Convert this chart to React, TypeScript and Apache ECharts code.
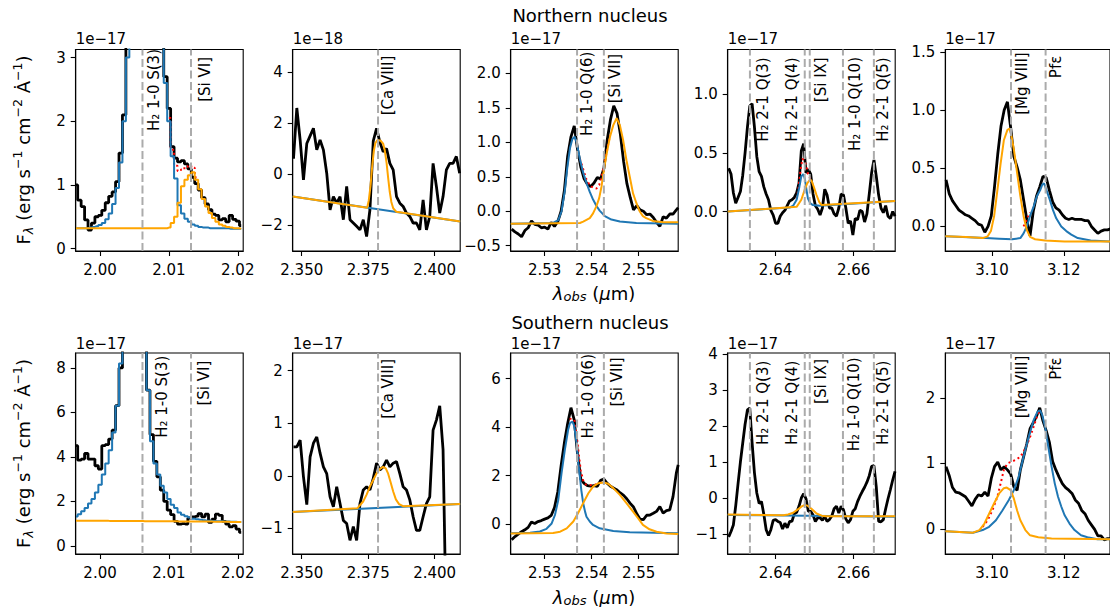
import React, { useEffect, useRef } from "react";
import * as echarts from "echarts";

type Pair = [number, number];

// ---------- wavelength grids (micron) ----------
const lamC1 = [1.9965, 1.9970, 1.9975, 1.9980, 1.9985, 1.9990, 1.9995, 2.0000, 2.0005, 2.0010, 2.0015, 2.0020, 2.0025, 2.0030, 2.0035, 2.0040, 2.0045, 2.0050, 2.0055, 2.0060, 2.0065, 2.0070, 2.0075, 2.0080, 2.0085, 2.0090, 2.0095, 2.0100, 2.0105, 2.0110, 2.0115, 2.0120, 2.0125, 2.0130, 2.0135, 2.0140, 2.0145, 2.0150, 2.0155, 2.0160, 2.0165, 2.0170, 2.0175, 2.0180, 2.0185, 2.0190, 2.0195, 2.0200, 2.0205];
const lamC2 = [2.3469, 2.34815, 2.3494, 2.35065, 2.3519, 2.35315, 2.3544, 2.35565, 2.3569, 2.35815, 2.3594, 2.36065, 2.3619, 2.36315, 2.3644, 2.36565, 2.3669, 2.36815, 2.3694, 2.37065, 2.3719, 2.37315, 2.3744, 2.37565, 2.3769, 2.37815, 2.3794, 2.38065, 2.3819, 2.38315, 2.3844, 2.38565, 2.3869, 2.38815, 2.3894, 2.39065, 2.3919, 2.39315, 2.3944, 2.39565, 2.3969, 2.39815, 2.3994, 2.40065, 2.4019, 2.40315, 2.4044, 2.40565, 2.4069, 2.40815, 2.4094];
const lamC3 = [2.5230, 2.5237, 2.5244, 2.5251, 2.5258, 2.5265, 2.5272, 2.5279, 2.5286, 2.5293, 2.5300, 2.5307, 2.5314, 2.5321, 2.5328, 2.5335, 2.5342, 2.5349, 2.5356, 2.5363, 2.5370, 2.5377, 2.5384, 2.5391, 2.5398, 2.5405, 2.5412, 2.5419, 2.5426, 2.5433, 2.5440, 2.5447, 2.5454, 2.5461, 2.5468, 2.5475, 2.5482, 2.5489, 2.5496, 2.5503, 2.5510, 2.5517, 2.5524, 2.5531, 2.5538, 2.5545, 2.5552, 2.5559, 2.5566, 2.5573, 2.5580, 2.5584];
const lamC4 = [2.6280, 2.6286, 2.6292, 2.6298, 2.6304, 2.6310, 2.6316, 2.6322, 2.6328, 2.6334, 2.6340, 2.6346, 2.6352, 2.6358, 2.6364, 2.6370, 2.6376, 2.6382, 2.6388, 2.6394, 2.6400, 2.6406, 2.6412, 2.6418, 2.6424, 2.6430, 2.6436, 2.6442, 2.6448, 2.6454, 2.6460, 2.6466, 2.6472, 2.6478, 2.6484, 2.6490, 2.6496, 2.6502, 2.6508, 2.6514, 2.6520, 2.6526, 2.6532, 2.6538, 2.6544, 2.6550, 2.6556, 2.6562, 2.6568, 2.6574, 2.6580, 2.6586, 2.6592, 2.6598, 2.6604, 2.6610, 2.6616, 2.6622, 2.6628, 2.6634, 2.6640, 2.6646, 2.6652, 2.6658, 2.6664, 2.6670, 2.6676, 2.6682, 2.6688, 2.6694, 2.6700, 2.6706];
const lamC5 = [3.0872, 3.0881, 3.0890, 3.0899, 3.0908, 3.0917, 3.0926, 3.0935, 3.0944, 3.0953, 3.0962, 3.0971, 3.0980, 3.0989, 3.0998, 3.1007, 3.1016, 3.1025, 3.1034, 3.1043, 3.1052, 3.1061, 3.1070, 3.1079, 3.1088, 3.1097, 3.1106, 3.1115, 3.1124, 3.1133, 3.1142, 3.1151, 3.1160, 3.1169, 3.1178, 3.1187, 3.1196, 3.1205, 3.1214, 3.1223, 3.1232, 3.1241, 3.1250, 3.1259, 3.1268, 3.1277, 3.1286, 3.1295, 3.1304, 3.1313, 3.1322, 3.1331];

// ---------- Northern nucleus ----------
const n1Flux = [1.00, 0.76, 0.66, 0.45, 0.29, 0.40, 0.50, 0.52, 0.60, 0.72, 0.82, 0.89, 1.05, 1.50, 2.10, 3.20, 5.0, 8.0, 11, 12, 12, 10, 7.5, 5.5, 4.2, 3.4, 2.7, 2.2, 1.6, 1.42, 1.36, 1.38, 1.33, 1.25, 1.12, 1.02, 0.92, 0.80, 0.70, 0.61, 0.54, 0.52, 0.45, 0.47, 0.42, 0.52, 0.46, 0.43, 0.36];
const n1Blue = [0.32, 0.32, 0.32, 0.32, 0.33, 0.34, 0.35, 0.37, 0.40, 0.46, 0.55, 0.70, 0.95, 1.35, 2.00, 3.00, 5.0, 8.0, 11, 12, 12, 10, 7.5, 5.5, 4.0, 3.2, 2.6, 2.0, 1.45, 1.10, 0.68, 0.55, 0.47, 0.42, 0.38, 0.36, 0.34, 0.33, 0.33, 0.32, 0.32, 0.32, 0.32, 0.32, 0.32, 0.31, 0.31, 0.31, 0.31];
const n1Orange = [0.32, 0.32, 0.32, 0.32, 0.32, 0.32, 0.32, 0.32, 0.32, 0.32, 0.32, 0.32, 0.32, 0.32, 0.32, 0.32, 0.32, 0.32, 0.32, 0.32, 0.32, 0.32, 0.32, 0.32, 0.32, 0.32, 0.32, 0.33, 0.40, 0.50, 0.72, 0.98, 1.08, 1.15, 1.20, 1.08, 0.93, 0.78, 0.66, 0.56, 0.48, 0.42, 0.38, 0.36, 0.34, 0.33, 0.32, 0.32, 0.31];
const n1Total: Pair[] = [[2.0100, 2.05], [2.0105, 1.55], [2.0110, 1.30], [2.0115, 1.22], [2.0120, 1.24], [2.0125, 1.28], [2.0130, 1.30], [2.0135, 1.27], [2.0140, 1.12]];

const n2Flux = [0.6, 2.6, 1.34, -0.23, 1.2, 1.5, 1.8, 0.95, 1.34, 0.95, 0.03, -1.41, -0.89, -1.15, -0.89, -1.8, -0.49, -1.8, -1.93, -2.06, -2.2, -1.8, -2.46, -1.41, 1.3, 1.8, 1.25, 0.88, 1.0, 0.42, 0.16, -0.89, -1.15, -1.28, -1.54, -1.67, -1.93, -1.93, -2.2, -1.02, -2.2, -1.67, 0.42, -0.49, -1.54, -0.89, 0.16, 0.42, 0.42, 0.69, 0.03];
const n2Blue: Pair[] = [[2.3466, -0.89], [2.4096, -1.87]];
const n2Orange: Pair[] = [[2.3466, -0.89], [2.3746, -1.33], [2.3752, -1.05], [2.3759, -0.45], [2.3765, 0.3], [2.3771, 0.9], [2.3777, 1.22], [2.3784, 1.33], [2.3796, 1.32], [2.3806, 1.2], [2.3812, 0.95], [2.3819, 0.45], [2.3825, -0.15], [2.3831, -0.7], [2.3837, -1.1], [2.3844, -1.35], [2.3856, -1.49], [2.4096, -1.87]];

const n3Flux = [-0.26, -0.30, -0.33, -0.37, -0.28, -0.24, -0.14, -0.19, -0.20, -0.24, -0.23, -0.26, -0.16, -0.22, -0.15, 0.0, 0.30, 0.80, 1.08, 1.24, 0.90, 0.64, 0.47, 0.39, 0.36, 0.41, 0.49, 0.47, 0.62, 1.03, 1.33, 1.53, 1.42, 1.12, 0.72, 0.40, 0.20, 0.02, 0.08, 0.02, 0.0, -0.05, -0.04, -0.09, -0.16, -0.22, -0.08, -0.10, -0.04, -0.04, 0.02, 0.05];
const n3Blue: Pair[] = [[2.5228, -0.18], [2.5318, -0.17], [2.5329, -0.13], [2.5336, 0.0], [2.5343, 0.30], [2.5348, 0.62], [2.5354, 0.92], [2.5359, 1.05], [2.5364, 1.08], [2.5368, 1.0], [2.5375, 0.76], [2.5382, 0.56], [2.5389, 0.41], [2.5396, 0.28], [2.5403, 0.17], [2.5410, 0.08], [2.5417, 0.01], [2.5428, -0.07], [2.5442, -0.12], [2.5460, -0.15], [2.5495, -0.17], [2.5584, -0.18]];
const n3Orange: Pair[] = [[2.5228, -0.18], [2.5375, -0.17], [2.5382, -0.15], [2.5396, -0.1], [2.5403, -0.03], [2.5410, 0.07], [2.5416, 0.19], [2.5421, 0.36], [2.5426, 0.6], [2.5432, 0.84], [2.5439, 1.08], [2.5446, 1.25], [2.5453, 1.35], [2.5460, 1.25], [2.5467, 1.03], [2.5474, 0.74], [2.5481, 0.5], [2.5488, 0.26], [2.5495, 0.12], [2.5502, 0.0], [2.5509, -0.07], [2.5516, -0.1], [2.5530, -0.14], [2.5552, -0.16], [2.5584, -0.16]];
const n3Total: Pair[] = [[2.5375, 0.76], [2.5389, 0.46], [2.5396, 0.38], [2.5403, 0.34], [2.5410, 0.33], [2.5416, 0.38], [2.5421, 0.5], [2.5426, 0.66], [2.5432, 0.86], [2.5439, 1.1]];

const n4Flux = [0.37, 0.32, 0.16, 0.07, 0.12, 0.17, 0.31, 0.50, 0.72, 0.90, 0.92, 0.72, 0.47, 0.34, 0.30, 0.21, 0.15, 0.10, 0.01, -0.03, -0.10, -0.10, -0.04, -0.01, 0.01, 0.05, 0.09, 0.10, 0.12, 0.16, 0.24, 0.52, 0.58, 0.33, 0.36, 0.32, 0.15, 0.05, 0.02, -0.03, 0.03, 0.19, 0.14, 0.03, 0.03, -0.02, -0.04, 0.03, 0.15, 0.14, 0.03, -0.10, -0.08, -0.20, -0.06, -0.07, 0.01, 0.0, -0.09, -0.02, 0.15, 0.33, 0.44, 0.30, 0.14, 0.03, -0.01, 0.05, -0.04, -0.06, 0.0, -0.04];
const n4Blue: Pair[] = [[2.62775, 0.0], [2.6437, 0.035], [2.6445, 0.05], [2.6454, 0.1], [2.6461, 0.21], [2.6466, 0.3], [2.6471, 0.32], [2.6475, 0.28], [2.6479, 0.19], [2.6483, 0.11], [2.6489, 0.07], [2.6496, 0.055], [2.6513, 0.05], [2.67064, 0.09]];
const n4Orange: Pair[] = [[2.62775, 0.0], [2.6454, 0.04], [2.6466, 0.1], [2.6475, 0.19], [2.6481, 0.24], [2.6488, 0.27], [2.6492, 0.265], [2.6498, 0.21], [2.6505, 0.14], [2.6512, 0.08], [2.6518, 0.055], [2.67064, 0.09]];
const n4Total: Pair[] = [[2.6454, 0.11], [2.6458, 0.18], [2.6465, 0.38], [2.6469, 0.45], [2.6472, 0.44], [2.6478, 0.40], [2.6483, 0.32], [2.6489, 0.28]];

const n5Flux = [0.40, 0.28, 0.22, 0.18, 0.14, 0.12, 0.10, 0.09, 0.07, 0.05, 0.02, 0.01, -0.05, 0.0, 0.09, 0.34, 0.62, 0.86, 1.0, 1.07, 0.85, 0.60, 0.51, 0.40, 0.23, 0.06, -0.08, 0.13, 0.26, 0.34, 0.43, 0.42, 0.31, 0.21, 0.16, 0.14, 0.10, 0.07, 0.06, 0.07, 0.06, 0.06, 0.06, 0.05, 0.05, 0.0, -0.03, -0.06, -0.04, -0.03, -0.03, -0.02];
const n5Blue: Pair[] = [[3.0870, -0.085], [3.0983, -0.1], [3.1020, -0.105], [3.1056, -0.11], [3.1079, -0.1], [3.1088, -0.06], [3.1097, 0.0], [3.1106, 0.09], [3.1116, 0.17], [3.1125, 0.26], [3.1134, 0.31], [3.1140, 0.36], [3.1145, 0.37], [3.1152, 0.31], [3.1161, 0.23], [3.1170, 0.14], [3.1179, 0.07], [3.1193, 0.0], [3.1207, -0.04], [3.1221, -0.07], [3.1239, -0.1], [3.1257, -0.11], [3.1275, -0.12], [3.1330, -0.13]];
const n5Orange: Pair[] = [[3.0870, -0.085], [3.0928, -0.09], [3.0974, -0.1], [3.0988, -0.085], [3.0997, -0.04], [3.1006, 0.09], [3.1015, 0.31], [3.1024, 0.54], [3.1033, 0.74], [3.1043, 0.83], [3.1049, 0.84], [3.1053, 0.8], [3.1061, 0.66], [3.1070, 0.46], [3.1079, 0.26], [3.1088, 0.09], [3.1097, -0.03], [3.1106, -0.09], [3.1120, -0.11], [3.1148, -0.12], [3.1202, -0.13], [3.1330, -0.13]];
const n5Total: Pair[] = [[3.1088, 0.0], [3.1097, 0.06], [3.1106, 0.12]];

// ---------- Southern nucleus ----------
const s1Flux = [4.5, 3.85, 3.9, 4.15, 3.9, 3.9, 3.6, 3.45, 4.5, 4.55, 4.8, 5.2, 6.3, 8.0, 10, 14, 19, 24, 25, 21, 12, 7.0, 5.0, 3.8, 3.1, 2.5, 2.0, 1.6, 1.4, 1.1, 0.97, 1.0, 0.97, 1.25, 1.3, 1.33, 1.45, 1.3, 1.42, 1.05, 1.2, 1.42, 1.37, 1.1, 0.97, 0.85, 0.9, 0.75, 0.6];
const s1Blue = [1.32, 1.42, 1.55, 1.7, 1.9, 2.1, 2.4, 2.75, 3.2, 3.7, 4.3, 5.1, 6.3, 8.2, 11, 15, 20, 25, 25, 20, 11, 7.0, 4.7, 3.7, 3.2, 2.7, 2.4, 2.1, 1.85, 1.7, 1.5, 1.4, 1.33, 1.27, 1.22, 1.19, 1.17, 1.15, 1.13, 1.12, 1.11, 1.1, 1.1, 1.09, 1.09, 1.08, 1.08, 1.07, 1.07];
const s1Orange = [1.12, 1.12, 1.12, 1.12, 1.12, 1.12, 1.12, 1.12, 1.12, 1.12, 1.11, 1.11, 1.11, 1.11, 1.11, 1.11, 1.11, 1.11, 1.11, 1.11, 1.10, 1.10, 1.10, 1.10, 1.10, 1.10, 1.10, 1.10, 1.10, 1.10, 1.09, 1.09, 1.09, 1.09, 1.09, 1.09, 1.09, 1.09, 1.09, 1.09, 1.08, 1.08, 1.08, 1.08, 1.08, 1.07, 1.07, 1.07, 1.07];

const s2Flux = [0.55, 0.55, 0.68, -0.02, -0.55, 0.36, 0.62, 0.74, 0.43, 0.17, 0.04, -0.4, -0.59, -0.21, -0.53, -0.85, -0.91, -1.23, -0.97, -1.23, -0.53, -0.27, -0.21, -0.27, -0.05, 0.24, 0.11, 0.17, 0.3, 0.17, 0.24, 0.27, 0.04, -0.21, -0.27, -0.46, -0.78, -1.04, -1.04, -0.78, -0.53, -0.4, 0.87, 1.06, 1.33, 0.5, -3, null, null, null, null];
const s2Blue: Pair[] = [[2.3466, -0.69], [2.4096, -0.54]];
const s2Orange: Pair[] = [[2.3466, -0.69], [2.3709, -0.62], [2.3731, -0.49], [2.3744, -0.36], [2.3756, -0.21], [2.3769, -0.08], [2.3781, 0.04], [2.3794, 0.13], [2.3806, 0.17], [2.3816, 0.14], [2.3825, 0.04], [2.3834, -0.12], [2.3844, -0.3], [2.3854, -0.45], [2.3866, -0.54], [2.3881, -0.58], [2.4096, -0.54]];

const s3Flux = [-0.65, -0.52, -0.42, -0.32, -0.24, -0.14, 0.08, 0.02, 0.10, 0.14, 0.20, 0.25, 0.35, 0.68, 1.32, 2.40, 3.35, 4.15, 4.80, 4.30, 2.90, 1.85, 1.68, 1.58, 1.56, 1.58, 1.55, 1.80, 1.85, 1.68, 1.56, 1.48, 1.40, 1.28, 1.18, 1.03, 0.85, 0.70, 0.42, 0.20, 0.18, 0.36, 0.37, 0.44, 0.52, 0.72, 0.45, 0.55, 0.58, 1.13, 2.10, 2.44];
const s3Blue: Pair[] = [[2.5228, -0.38], [2.5269, -0.36], [2.5290, -0.31], [2.5304, -0.2], [2.5315, 0.02], [2.5322, 0.37], [2.5329, 0.99], [2.5336, 2.1], [2.5343, 3.06], [2.5350, 3.89], [2.5354, 4.17], [2.5359, 4.23], [2.5363, 4.05], [2.5368, 3.34], [2.5371, 2.6], [2.5375, 1.96], [2.5378, 1.4], [2.5382, 0.86], [2.5386, 0.51], [2.5389, 0.3], [2.5396, 0.1], [2.5403, -0.04], [2.5417, -0.18], [2.5446, -0.29], [2.5481, -0.34], [2.5584, -0.38]];
const s3Orange: Pair[] = [[2.5228, -0.39], [2.5318, -0.37], [2.5333, -0.32], [2.5347, -0.18], [2.5361, 0.1], [2.5371, 0.44], [2.5382, 0.86], [2.5393, 1.27], [2.5403, 1.54], [2.5414, 1.68], [2.5426, 1.71], [2.5435, 1.66], [2.5446, 1.48], [2.5460, 1.2], [2.5474, 0.86], [2.5488, 0.51], [2.5499, 0.23], [2.5509, -0.04], [2.5523, -0.22], [2.5538, -0.32], [2.5559, -0.39], [2.5584, -0.41]];
const s3Total: Pair[] = [[2.5353, 4.35], [2.5363, 4.3], [2.5368, 3.7], [2.5373, 2.8], [2.5377, 2.2], [2.5382, 1.8], [2.5388, 1.62], [2.5396, 1.6], [2.5407, 1.62], [2.5417, 1.7], [2.5426, 1.72]];

const s4Flux = [-1.08, -0.93, -0.75, -0.22, 0.40, 1.0, 1.53, 2.05, 2.45, 2.50, 1.53, 0.70, 0.14, -0.15, -0.10, -0.45, -0.88, -1.04, -0.88, -0.62, -0.60, -0.65, -0.68, -0.86, -0.70, -0.83, -0.65, -0.65, -0.44, -0.40, -0.23, 0.0, 0.12, -0.02, -0.37, -0.37, -0.47, -0.65, -0.55, -0.55, -0.62, -0.51, -0.65, -0.60, -0.50, -0.30, -0.23, -0.42, -0.23, -0.33, -0.58, -0.69, -0.60, -0.37, -0.30, -0.10, 0.05, 0.18, 0.30, 0.44, 0.62, 0.88, 0.90, 0.30, -0.65, -0.66, -0.60, -0.30, -0.02, 0.23, 0.50, 0.74];
const s4Blue: Pair[] = [[2.62775, -0.47], [2.67064, -0.52]];
const s4Orange: Pair[] = [[2.62775, -0.46], [2.6420, -0.48], [2.6432, -0.46], [2.6445, -0.41], [2.6458, -0.31], [2.6466, -0.24], [2.6475, -0.19], [2.6483, -0.22], [2.6492, -0.3], [2.6505, -0.43], [2.6518, -0.49], [2.6530, -0.51], [2.67064, -0.51]];

const s5Flux = [0.95, 0.81, 0.63, 0.56, 0.55, 0.52, 0.49, 0.42, 0.35, 0.45, 0.52, 0.50, 0.56, 0.50, 0.77, 0.95, 1.02, 0.90, 0.95, 0.90, 0.84, 0.64, 0.59, 0.90, 1.10, 1.30, 1.53, 1.62, 1.72, 1.85, 1.65, 1.50, 1.32, 1.03, 0.90, 0.79, 0.69, 0.63, 0.59, 0.54, 0.44, 0.39, 0.28, 0.23, 0.13, 0.06, -0.01, -0.11, -0.11, -0.17, -0.15, -0.15];
const s5Blue: Pair[] = [[3.0870, -0.04], [3.0947, -0.06], [3.0974, -0.02], [3.0992, 0.03], [3.1011, 0.13], [3.1029, 0.28], [3.1047, 0.44], [3.1061, 0.59], [3.1074, 0.79], [3.1088, 1.1], [3.1102, 1.4], [3.1116, 1.66], [3.1127, 1.79], [3.1134, 1.81], [3.1140, 1.74], [3.1148, 1.56], [3.1157, 1.25], [3.1166, 0.95], [3.1175, 0.69], [3.1184, 0.49], [3.1193, 0.34], [3.1202, 0.21], [3.1216, 0.08], [3.1230, -0.02], [3.1248, -0.1], [3.1266, -0.13], [3.1294, -0.16], [3.1330, -0.16]];
const s5Orange: Pair[] = [[3.0870, -0.04], [3.0910, -0.05], [3.0947, -0.06], [3.0965, -0.02], [3.0979, 0.08], [3.0992, 0.23], [3.1006, 0.39], [3.1020, 0.54], [3.1033, 0.62], [3.1041, 0.63], [3.1052, 0.59], [3.1061, 0.46], [3.1070, 0.28], [3.1079, 0.13], [3.1093, -0.02], [3.1106, -0.1], [3.1129, -0.13], [3.1166, -0.15], [3.1330, -0.16]];
const s5Total: Pair[] = [[3.0974, 0.03], [3.0988, 0.13], [3.1001, 0.28], [3.1015, 0.49], [3.1024, 0.69], [3.1033, 0.9], [3.1043, 1.0], [3.1052, 1.02], [3.1065, 1.05], [3.1079, 1.1], [3.1088, 1.18], [3.1097, 1.28], [3.1106, 1.4], [3.1116, 1.56], [3.1125, 1.71], [3.1131, 1.79]];

// ---------- axes ----------
const xRange = [[1.99646, 2.02079], [2.3466, 2.4096], [2.52279, 2.5584], [2.62775, 2.67064], [3.08699, 3.13288]];
const xTicks = [[2.00, 2.01, 2.02], [2.350, 2.375, 2.400], [2.53, 2.54, 2.55], [2.64, 2.66], [3.10, 3.12]];
const xDec = [2, 3, 2, 2, 2];
const yRange = [
  [[-0.038, 3.126], [-3.033, 4.904], [-0.577, 2.348], [-0.337, 1.383], [-0.211, 1.52]],
  [[-0.37, 8.67], [-1.49, 2.338], [-1.24, 7.06], [-1.556, 4.03], [-0.386, 2.687]],
];
const yTicks = [
  [[0, 1, 2, 3], [-2, 0, 2, 4], [-0.5, 0, 0.5, 1, 1.5, 2], [0, 0.5, 1], [0, 0.5, 1, 1.5]],
  [[0, 2, 4, 6, 8], [-1, 0, 1, 2], [0, 2, 4, 6], [-1, 0, 1, 2, 3, 4], [0, 1, 2]],
];
const yDec = [[0, 0, 1, 1, 1], [0, 0, 0, 0, 0]];
const offsetText = [["1e\u221217", "1e\u221218", "1e\u221217", "1e\u221217", "1e\u221217"], ["1e\u221217", "1e\u221217", "1e\u221217", "1e\u221217", "1e\u221217"]];
const rowTitles = ["Northern nucleus", "Southern nucleus"];

// emission lines (observed wavelength) and their labels
const lineLam = [[2.00616, 2.01321], [2.3787], [2.5369, 2.5426], [2.63344, 2.64748, 2.64876, 2.65726, 2.66518], [3.1053, 3.11494]];
const lineNames = [["H\u2082 1-0 S(3)", "[Si VI]"], ["[Ca VIII]"], ["H\u2082 1-0 Q(6)", "[Si VII]"], ["H\u2082 2-1 Q(3)", "H\u2082 2-1 Q(4)", "[Si IX]", "H\u2082 1-0 Q(10)", "H\u2082 2-1 Q(5)"], ["[Mg VIII]", "Pf\u03b5"]];
const labelOffset = [
  [[[5.7, 0.5], [8.3, 8.5]], [[4.4, 7.2]], [[4.4, 3.2], [5.7, 5.5]], [[7.7, 8.8], [-18.3, 8.8], [6, 8.8], [6.7, 8.5], [3.7, 8.8]], [[5, 3.8], [4.4, 7.2]]],
  [[[13.7, 3.7], [7.6, 8.7]], [[4.4, 7]], [[5.7, 2], [7.4, 5.3]], [[8, 8.7], [-18.3, 8.7], [6, 7], [6, 5.3], [3.4, 8.7]], [[5, 3.7], [4.4, 5.3]]],
];

// layout
const FONT = "DejaVu Sans";
const COL_LEFT = [75.7, 292.7, 510.7, 727.7, 945.3];
const COL_W = 167.5;
const ROW_TOP = [49.5, 353];
const ROW_H = [201.5, 201];

const onGrid = (lam: number[], v: (number | null)[]) => lam.map((l, i) => [l, v[i] == null ? "-" : v[i]]);

const panels: any[] = [
  { r: 0, c: 0, step: true, data: onGrid(lamC1, n1Flux), blue: onGrid(lamC1, n1Blue), orange: onGrid(lamC1, n1Orange), total: n1Total },
  { r: 0, c: 1, data: onGrid(lamC2, n2Flux), blue: n2Blue, orange: n2Orange },
  { r: 0, c: 2, data: onGrid(lamC3, n3Flux), blue: n3Blue, orange: n3Orange, total: n3Total },
  { r: 0, c: 3, data: onGrid(lamC4, n4Flux), blue: n4Blue, orange: n4Orange, total: n4Total },
  { r: 0, c: 4, data: onGrid(lamC5, n5Flux), blue: n5Blue, orange: n5Orange, total: n5Total },
  { r: 1, c: 0, step: true, data: onGrid(lamC1, s1Flux), blue: onGrid(lamC1, s1Blue), orange: onGrid(lamC1, s1Orange) },
  { r: 1, c: 1, data: onGrid(lamC2, s2Flux), blue: s2Blue, orange: s2Orange },
  { r: 1, c: 2, data: onGrid(lamC3, s3Flux), blue: s3Blue, orange: s3Orange, total: s3Total },
  { r: 1, c: 3, data: onGrid(lamC4, s4Flux), blue: s4Blue, orange: s4Orange },
  { r: 1, c: 4, data: onGrid(lamC5, s5Flux), blue: s5Blue, orange: s5Orange, total: s5Total },
];

const fmt = (d: number) => (v: number) => v.toFixed(d).replace("-", "\u2212");

function buildOption() {
  const grid: any[] = [];
  const xAxis: any[] = [];
  const yAxis: any[] = [];
  const series: any[] = [];
  panels.forEach((p, i) => {
    const [y0, y1] = yRange[p.r][p.c];
    grid.push({ left: COL_LEFT[p.c], top: ROW_TOP[p.r], width: COL_W, height: ROW_H[p.r], show: true, borderColor: "#000", borderWidth: 1.1, containLabel: false });
    xAxis.push({
      type: "value", gridIndex: i, min: xRange[p.c][0], max: xRange[p.c][1],
      axisLine: { show: true, onZero: false, lineStyle: { color: "#000", width: 1.1 } },
      axisTick: { show: true, length: 5, customValues: xTicks[p.c], lineStyle: { color: "#000", width: 1.1 } },
      axisLabel: { customValues: xTicks[p.c], formatter: fmt(xDec[p.c]), color: "#000", fontSize: 15, fontFamily: FONT, margin: 11 },
      splitLine: { show: false },
    });
    yAxis.push({
      type: "value", gridIndex: i, min: y0, max: y1,
      axisLine: { show: true, onZero: false, lineStyle: { color: "#000", width: 1.1 } },
      axisTick: { show: true, length: 5, customValues: yTicks[p.r][p.c], lineStyle: { color: "#000", width: 1.1 } },
      axisLabel: { customValues: yTicks[p.r][p.c], formatter: fmt(yDec[p.r][p.c]), color: "#000", fontSize: 15, fontFamily: FONT, margin: 10 },
      splitLine: { show: false },
    });
    const base = { type: "line", xAxisIndex: i, yAxisIndex: i, showSymbol: false, symbol: "none", silent: true, animation: false, clip: true, emphasis: { disabled: true } };
    const step = p.step ? "middle" : false;
    series.push({ ...base, name: "data" + i, data: p.data, step, z: 2, lineStyle: { color: "#000", width: 2.8 } });
    if (p.total) series.push({ ...base, name: "total" + i, data: p.total, step, z: 3, lineStyle: { color: "#ff0000", width: 2, type: [2, 3] } });
    series.push({ ...base, name: "blue" + i, data: p.blue, step, z: 4, lineStyle: { color: "#1f77b4", width: 2 } });
    series.push({ ...base, name: "orange" + i, data: p.orange, step, z: 5, lineStyle: { color: "#ffa500", width: 2 } });
    lineLam[p.c].forEach((lam, k) => {
      series.push({
        ...base, name: "line" + i + "_" + k, z: 6,
        data: [[lam, y0], [lam, y1]],
        lineStyle: { color: "#ababab", width: 2, type: [8, 3.5] },
      });
    });
  });
  return { animation: false, grid, xAxis, yAxis, series };
}

function buildGraphics(chart: any) {
  const g: any[] = [];
  const txt = (x: number, y: number, text: string, extra: any = {}, rot = 0) => ({
    type: "text", x, y, rotation: rot, silent: true,
    style: { text, fontSize: 15, fontFamily: FONT, fill: "#000", align: "left", verticalAlign: "middle", ...extra },
  });
  [0, 1].forEach((r) => {
    g.push(txt(590, r === 0 ? 15 : 322, rowTitles[r], { fontSize: 18, align: "center" }));
    g.push({
      type: "text", x: 594, y: r === 0 ? 293 : 597, silent: true,
      style: {
        text: "{i|\u03bb}{s|obs}{n| (}{i|\u03bc}{n|m)}", fill: "#000", align: "center", verticalAlign: "middle",
        rich: {
          n: { fontSize: 18, fontFamily: FONT, lineHeight: 20 },
          i: { fontSize: 18, fontFamily: FONT, fontStyle: "italic", lineHeight: 20 },
          s: { fontSize: 13, fontFamily: FONT, fontStyle: "italic", lineHeight: 13, verticalAlign: "bottom" },
        },
      },
    });
    g.push({
      type: "text", x: 23, y: r === 0 ? 150 : 453.5, rotation: Math.PI / 2, silent: true,
      style: {
        text: "{n|F}{s|\u03bb}{n| (erg s}{p|\u22121}{n| cm}{p|\u22122}{n| \u0226}{p|\u22121}{n|)}", fill: "#000", align: "center", verticalAlign: "middle",
        rich: {
          n: { fontSize: 18, fontFamily: FONT, lineHeight: 24 },
          s: { fontSize: 13, fontFamily: FONT, fontStyle: "italic", lineHeight: 13, verticalAlign: "bottom" },
          p: { fontSize: 12.5, fontFamily: FONT, lineHeight: 13, verticalAlign: "top" },
        },
      },
    });
    for (let c = 0; c < 5; c++) {
      g.push(txt(COL_LEFT[c], r === 0 ? 39 : 343.5, offsetText[r][c]));
    }
  });
  panels.forEach((p, i) => {
    lineLam[p.c].forEach((lam, k) => {
      const px = chart.convertToPixel({ xAxisIndex: i }, lam);
      const [dx, dy] = labelOffset[p.r][p.c][k];
      g.push(txt(px + dx - 2, ROW_TOP[p.r] + dy - 1, lineNames[p.c][k], { align: "right", verticalAlign: "top", lineHeight: 15 }, Math.PI / 2));
    });
  });
  return g;
}

export default function App() {
  const ref = useRef<HTMLDivElement>(null);
  useEffect(() => {
    if (!ref.current) return;
    const chart = echarts.init(ref.current, undefined, { renderer: "svg" });
    chart.setOption(buildOption());
    chart.setOption({ graphic: buildGraphics(chart) });
    return () => chart.dispose();
  }, []);
  return <div ref={ref} style={{ position: "absolute", left: 0, top: 0, width: 1110, height: 607, background: "#fff" }} />;
}
